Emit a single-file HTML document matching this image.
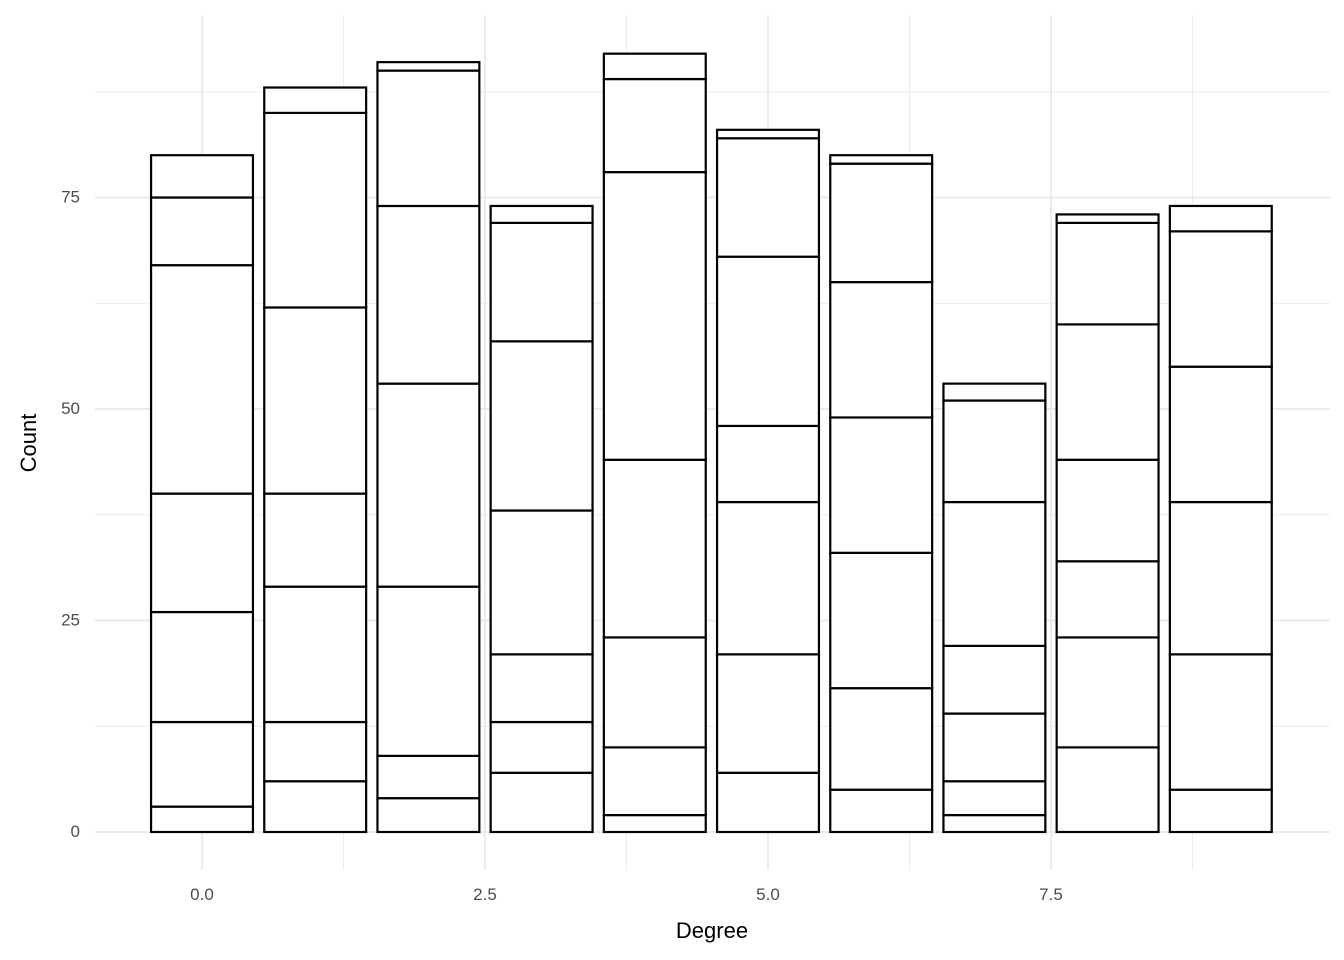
<!DOCTYPE html>
<html><head><meta charset="utf-8"><style>
html,body{margin:0;padding:0;background:#fff;}
svg{display:block;font-family:"Liberation Sans","DejaVu Sans",sans-serif;}
</style></head><body>
<svg id="chart" width="1344" height="960"></svg>
<script>
const categories = [0,1,2,3,4,5,6,7,8,9];
const segments = [
  [3,10,13,14,27,8,5],
  [6,7,16,11,22,23,3],
  [4,5,20,24,21,16,1],
  [7,6,8,17,20,14,2],
  [2,8,13,21,34,11,3],
  [7,14,18,9,20,14,1],
  [5,12,16,16,16,14,1],
  [2,4,8,8,17,12,2],
  [10,13,9,12,16,12,1],
  [5,16,18,16,16,3]
];
const yTicks = [0,25,50,75];
const yMinor = [12.5,37.5,62.5,87.5];
const xTicks = [0,2.5,5,7.5];
const xTickLabels = ["0.0","2.5","5.0","7.5"];
const xMinor = [1.25,3.75,6.25,8.75];

const NS="http://www.w3.org/2000/svg";
const svg=document.getElementById('chart');
const x=v=>202+(v)*113.2;
const y=v=>832-v*8.46;
function mk(tag,attrs,parent){const e=document.createElementNS(NS,tag);for(const k in attrs)e.setAttribute(k,attrs[k]);(parent||svg).appendChild(e);return e;}
const L=95,R=1330,T=15,B=870;
const grid=mk('g',{});


yMinor.forEach(v=>{const l=mk('line',{x1:L,x2:R,y1:y(v),y2:y(v),stroke:'#ebebeb','stroke-width':1},grid);});
xMinor.forEach(v=>{const l=mk('line',{x1:x(v),x2:x(v),y1:T,y2:B,stroke:'#ebebeb','stroke-width':1},grid);});
yTicks.forEach(v=>{const l=mk('line',{x1:L,x2:R,y1:y(v),y2:y(v),stroke:'#ebebeb','stroke-width':2},grid);
  const t=mk('text',{x:80,y:y(v)+5,'text-anchor':'end','font-size':17,fill:'#4d4d4d'});t.textContent=v;});
xTicks.forEach((v,i)=>{const l=mk('line',{x1:x(v),x2:x(v),y1:T,y2:B,stroke:'#ebebeb','stroke-width':2},grid);
  const t=mk('text',{x:x(v),y:900,'text-anchor':'middle','font-size':17,fill:'#4d4d4d'});t.textContent=xTickLabels[i];});
const bars=mk('g',{});


categories.forEach((c,i)=>{let cum=0;segments[i].forEach((s,j)=>{
  const r=mk('rect',{x:x(c-0.45),width:x(c+0.45)-x(c-0.45),y:y(cum+s),height:y(cum)-y(cum+s),fill:'#fff',stroke:'#000','stroke-width':2.2},bars);
  
  
  cum+=s;});});
const xt=mk('text',{x:712,y:938,'text-anchor':'middle','font-size':22,fill:'#000'});xt.textContent='Degree';


const yt=mk('text',{x:0,y:0,transform:'translate(36,443) rotate(-90)','text-anchor':'middle','font-size':22,fill:'#000'});yt.textContent='Count';


</script>
</body></html>
